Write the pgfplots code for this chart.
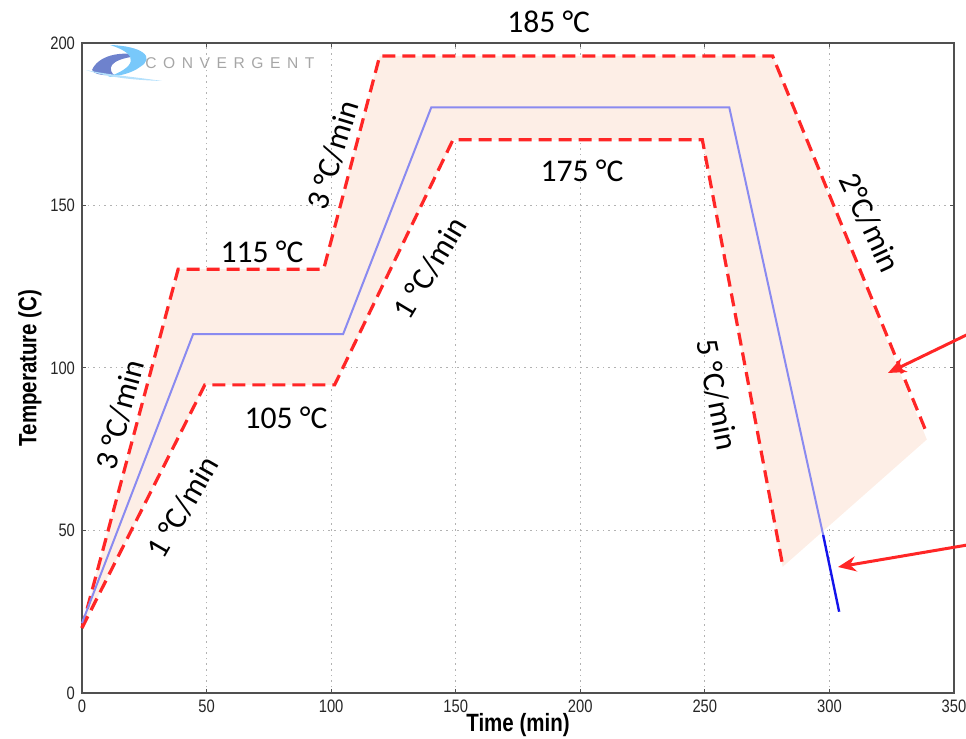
\documentclass[border=0pt]{standalone}
\usepackage{fontspec}
\setmainfont{Carlito}
\newfontfamily\tickfont[FakeStretch=0.82]{Liberation Sans}
\newfontfamily\logofont[LetterSpace=42]{Liberation Sans}
\usepackage{pgfplots}
\pgfplotsset{compat=1.18}
\usetikzlibrary{arrows.meta}
\definecolor{band}{RGB}{253,238,230}
\definecolor{dred}{RGB}{255,38,38}
\definecolor{lblue}{RGB}{138,138,240}
\definecolor{dblue}{RGB}{20,20,235}
\definecolor{framec}{RGB}{80,80,80}
\definecolor{logoA}{RGB}{120,200,250}
\definecolor{logoB}{RGB}{110,130,205}
\begin{document}
\begin{tikzpicture}
\begin{axis}[
  scale only axis, width=436pt, height=325pt,
  xmin=0, xmax=350, ymin=0, ymax=200,
  xtick={0,50,...,350}, ytick={0,50,...,200},
  grid=major,
  major grid style={dash pattern=on 0.8pt off 2pt, gray!60, line width=0.5pt},
  axis line style={framec, line width=0.8pt},
  tick align=inside, major tick length=2pt,
  tick style={framec, line width=0.5pt},
  ticklabel style={font=\tickfont\fontsize{9}{10}\selectfont, text=black!85},
  /pgf/number format/assume math mode=true,
  xlabel={\tickfont\bfseries\fontsize{12.5}{14}\selectfont Time (min)},
  ylabel={\tickfont\bfseries\fontsize{12.5}{14}\selectfont Temperature (C)},
  xlabel style={at={(axis description cs:0.5,-0.05)}, anchor=center},
  ylabel style={at={(axis description cs:-0.0596,0.5)}, anchor=center, rotate=0},
  clip=false,
]
% shaded tolerance band
\addplot[fill=band, draw=none] coordinates {
  (0,20) (38.6,130.4) (97,130.4) (119.5,196) (277.2,196) (339.1,78)
  (281.2,38.8) (249,170.2) (148.9,170.2) (101.4,94.8) (49.3,94.8) (0,20)
} -- cycle;
% upper limit
\addplot[dred, line width=1.6pt, dash pattern=on 6.5pt off 3.5pt] coordinates {
  (0,20) (38.6,130.4) (97,130.4) (119.5,196) (277.2,196) (339.1,79.9)
};
% lower limit
\addplot[dred, line width=1.6pt, dash pattern=on 6.5pt off 3.5pt] coordinates {
  (0,20) (49.3,94.8) (101.4,94.8) (148.9,170.2) (249,170.2) (281.2,39.4)
};
% cure cycle
\addplot[lblue, line width=1pt] coordinates {
  (0,21.5) (44.6,110.4) (104.8,110.4) (140.2,180.2) (259.8,180.2) (297.5,48.6)
};
\addplot[dblue, line width=1.2pt] coordinates {
  (297.5,48.6) (303.9,25)
};
\end{axis}
% annotations in pixel coordinates of the reference (origin top-left)
\begin{scope}[shift={(-41pt,346.5pt)}, x=0.5pt, y=-0.5pt]
  \begin{scope}
    \clip (0,0) rectangle (966,739);
    \draw[dred, line width=1.5pt, -{Stealth[length=9pt,width=7.5pt]}] (985,326) -- (888,373);
    \draw[dred, line width=1.5pt, -{Stealth[length=9pt,width=7.5pt]}] (985,542) -- (838,567);
  \end{scope}
  \begin{scope}[font=\fontsize{15.8}{18}\selectfont]
    \node at (548.7,22) {185 °C};
    \node at (262,252) {115 °C};
    \node at (286,418) {105 °C};
    \node at (582,171) {175 °C};
    \node[rotate=75] at (120,415) {3 °C/min};
    \node[rotate=60] at (183,507) {1 °C/min};
    \node[rotate=73] at (333,155) {3 °C/min};
    \node[rotate=59] at (430,268) {1 °C/min};
    \node[rotate=-79] at (717,395) {5 °C/min};
    \node[rotate=-65] at (870,223) {2°C/min};
  \end{scope}
  % logo
  \fill[logoB] (92,70) .. controls (98,56) and (120,50) .. (142,56)
               .. controls (118,57) and (104,65) .. (114,75)
               .. controls (102,76) and (94,74) .. cycle;
  \fill[logoA] (110,45) .. controls (142,46) and (156,57) .. (140,67)
               .. controls (132,73) and (120,76) .. (108,77)
               .. controls (134,68) and (142,55) .. cycle;
  \fill[logoA!55] (86,70) .. controls (110,75) and (135,77) .. (162,81)
               .. controls (135,80) and (110,78) .. cycle;
  \node[anchor=west, text=gray!70, inner sep=0pt] at (145,63) {\logofont\fontsize{7.8}{8}\selectfont CONVERGENT};
\end{scope}
\pgfresetboundingbox
\useasboundingbox (-41pt,-23pt) rectangle (442pt,346.5pt);
\end{tikzpicture}
\end{document}
